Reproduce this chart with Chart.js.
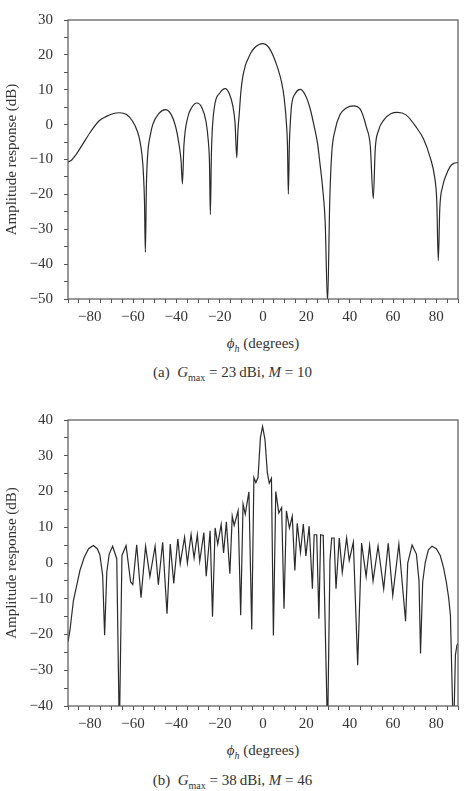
<!DOCTYPE html>
<html>
<head>
<meta charset="utf-8">
<script src="https://cdn.jsdelivr.net/npm/chart.js@4.4.1/dist/chart.umd.min.js"></script>
<style>
  body { margin:0; background:#fff; width:465px; height:791px; position:relative; overflow:hidden;
         font-family:"Liberation Serif","DejaVu Serif",serif; color:#333; }
  .box { position:absolute; left:0; width:465px; }
  .txt { position:absolute; text-align:center; font-size:15px; line-height:18px; white-space:nowrap; }
  sub { font-size:10px; line-height:0; }
</style>
</head>
<body>

<div class="box" style="top:0;height:330px"><canvas id="chartA"></canvas></div>
<div class="txt" style="top:334px;left:68px;width:390px"><i>ϕ<sub>h</sub></i> (degrees)</div>
<div class="txt" style="top:363px;left:0;width:465px">(a)&nbsp; <i>G</i><sub>max</sub> = 23&thinsp;dBi, <i>M</i> = 10</div>

<div class="box" style="top:400px;height:340px"><canvas id="chartB"></canvas></div>
<div class="txt" style="top:741px;left:68px;width:390px"><i>ϕ<sub>h</sub></i> (degrees)</div>
<div class="txt" style="top:771px;left:0;width:465px">(b)&nbsp; <i>G</i><sub>max</sub> = 38&thinsp;dBi, <i>M</i> = 46</div>

<script>
// (a) M = 10
const phiA = [-90, -88.6, -86.3, -83.2, -79.4, -75.6, -72.5, -69, -66.3, -63, -60.1, -58, -56.8, -55.8, -55.2, -54.7, -54.3, -53.8, -53.2, -52,
  -50.9, -48, -45.1, -42.5, -40.2, -38.8, -37.8, -37.2, -36.5, -34.8, -32.8, -30.5, -28.3, -26.3, -25.2, -24.7, -24.3, -23.8, -22.5, -20,
  -17.4, -15.5, -14, -12.9, -12.1, -11.6, -11, -10.2, -9.4, -8.2, -7.1, -5.5, -4.1, -2, 0, 2, 3.5, 4.8, 6.8, 8.6,
  9.8, 10.8, 11.3, 11.7, 12.2, 12.7, 13.2, 15, 17.1, 19.5, 21.7, 23.8, 25.2, 26.3, 27.5, 28.7, 29.8, 30.8, 31.7, 33.3,
  35.5, 38.5, 41.7, 44.8, 47.8, 49.5, 50.9, 51.8, 53.2, 56, 59, 62, 66, 70.9, 74, 77.1, 79.2, 80.2, 80.9, 81.6,
  82.9, 84.5, 86.3, 88, 90];
const gainA = [-10.7, -10.3, -8.6, -5.6, -1.9, 1.1, 2.3, 3.2, 3.4, 2.9, 0.9, -1.9, -4.7, -9, -14, -22, -36.6, -17, -8.4, -3,
  0, 3.2, 4.3, 3, -0.9, -5.5, -10.5, -17, -6, 1.9, 5, 6.2, 5, 0.9, -5, -11, -25.8, -8, 4.7, 9,
  10.3, 8.8, 5.6, 0.5, -9.5, -2, 2.8, 9.5, 13.5, 16.8, 18.6, 20.7, 21.9, 22.9, 23.2, 22.6, 21.3, 19.6, 16.2, 12.1,
  7.5, 0.5, -6, -19.9, -5, 1.5, 5.6, 9, 10.1, 8.5, 4.7, -1, -5.5, -11.2, -18, -28, -51, -22, -8.4, -1.5,
  2.8, 4.8, 5.4, 4.5, -0.9, -6, -21.2, -7, -1.9, 1.5, 3.1, 3.5, 2.8, -0.9, -4, -9.3, -15, -22, -39, -24,
  -17.7, -14.5, -12.1, -11.1, -10.9];

// (b) M = 46
const phiB = [-90, -89.1, -87.5, -86, -84.5, -82.5, -80.5, -78.3, -76.5, -75.3, -74, -73.1, -72.1, -71, -69.4, -67.5, -66.3, -65.1, -63.2, -61.1,
  -60.1, -58.3, -56.3, -54.2, -52.2, -49.8, -48.3, -46.3, -44.3, -42.8, -41.2, -39.3, -38.2, -36.2, -34.9, -33.2, -31.8, -30.3, -29.2, -27.3,
  -26.2, -24.4, -23.3, -22.1, -20.9, -19.3, -18.2, -16.9, -15.3, -14.2, -13.3, -11.5, -10.3, -9.2, -8.2, -6.5, -5.2, -4.2, -3.3, -2.3,
  -1.2, -0.2, 0.9, 2, 2.9, 3.9, 4.8, 5.9, 7.3, 8.6, 9.7, 10.8, 12.2, 13.5, 14.7, 15.8, 17.3, 18.6, 19.8, 21.3,
  22.8, 23.6, 24.8, 25.8, 26.6, 27.8, 29.8, 30.9, 31.7, 32.8, 33.7, 35.2, 36.6, 38.6, 39.8, 41.7, 43.7, 45.5, 47.6, 49.2,
  50.8, 53.1, 55.7, 57.8, 59.9, 62.7, 65.8, 66.8, 68.8, 70.8, 72, 72.7, 73.7, 74.9, 76.3, 78, 80, 81.8, 83.3, 84.6,
  85.7, 86.5, 87.9, 88.8, 89.5, 90];
const gainB = [-22, -18.8, -10.5, -6.3, -2.1, 1.6, 4, 4.9, 4, 2.3, -3.5, -20.2, -2.6, 2.5, 4.7, 1.2, -48, 2.1, 4.9, -5.3,
  -6, 5.1, -9.7, 4.7, -3.8, 4.7, -6.1, 5.8, -14.2, 5.3, -5.7, 6.8, -0.2, 7.2, 0, 8, 1.4, 7.9, 0.5, 8.5,
  -3.7, 9, -15, 9.8, 5.3, 10.8, 2.8, 11.5, -3, 13.1, 10.5, 14.6, -14.6, 16.5, 13.7, 19.9, -18.6, 23.9, 22.5, 23.9,
  35, 38.2, 34.6, 25.3, 22.3, 23.7, -20.3, 20, 14, 15.5, -12.8, 14.6, 9.8, 13.1, -2.1, 11.1, 3, 10.9, 2, 10.3,
  -7.2, 7.9, 7.9, -15.6, 7.9, 7.7, -48, 0.7, 7, 7, -7.2, 7, -2.6, 7, 0.7, 5.8, -28.6, 5.6, -3.8, 4.9,
  -5, 4.7, -7.2, 5.5, -9.1, 5.3, -16.3, 0, 5, 2.5, -5, -25.3, -5.3, 0.2, 3.6, 4.7, 4, 2.1, -1.2, -5.3,
  -9.8, -14.6, -50, -25.8, -23, -22.5];

const xLabels = [-80, -60, -40, -20, 0, 20, 40, 60, 80];
const yLabelsA = [-50, -40, -30, -20, -10, 0, 10, 20, 30];
const yLabelsB = [-40, -30, -20, -10, 0, 10, 20, 30, 40];

const FONT = '"Liberation Serif", "Times New Roman", "DejaVu Serif", serif';
const INK = '#333';
const AXIS = '#555';

function fmt(v) {
  return v < 0 ? '\u2212' + Math.abs(v) : String(v);
}

const frame = {
  id: 'frame',
  afterDatasetsDraw(chart) {
    const { ctx, chartArea: a } = chart;
    ctx.save();
    ctx.strokeStyle = AXIS;
    ctx.lineWidth = 1.2;
    ctx.strokeRect(a.left, a.top, a.right - a.left, a.bottom - a.top);
    ctx.restore();
  }
};

function makeChart(id, phi, gain, yLabels, padTop, xHeight, smooth) {
  return new Chart(document.getElementById(id), {
    type: 'line',
    data: {
      datasets: [{
        data: phi.map((x, i) => ({ x: x, y: gain[i] })),
        borderColor: '#2a2a2a',
        borderWidth: 1.2,
        pointRadius: 0,
        tension: smooth ? 0.4 : 0,
        cubicInterpolationMode: smooth ? 'monotone' : 'default',
        clip: 0
      }]
    },
    options: {
      responsive: true,
      maintainAspectRatio: false,
      animation: false,
      layout: { padding: { top: padTop, right: 7, bottom: 0, left: 0 } },
      plugins: { legend: { display: false }, tooltip: { enabled: false } },
      scales: {
        x: {
          type: 'linear', min: -90, max: 90,
          border: { display: false },
          grid: { drawOnChartArea: false, tickLength: 4, tickColor: AXIS, tickWidth: 1 },
          ticks: {
            stepSize: 5, autoSkip: false, maxRotation: 0, padding: 5,
            color: INK, font: { family: FONT, size: 15 },
            callback: v => xLabels.includes(v) ? fmt(v) : ''
          },
          afterFit: s => { s.height = xHeight; }
        },
        y: {
          min: yLabels[0], max: yLabels[yLabels.length - 1],
          border: { display: false },
          grid: { drawOnChartArea: false, tickLength: 4, tickColor: AXIS, tickWidth: 1 },
          ticks: {
            stepSize: 5, autoSkip: false, padding: 11,
            color: INK, font: { family: FONT, size: 15 },
            callback: v => yLabels.includes(v) ? fmt(v) : ''
          },
          title: {
            display: true, text: 'Amplitude response (dB)', color: INK,
            font: { family: FONT, size: 15 }, padding: { top: 3, bottom: 0 }
          },
          afterFit: s => { s.width = 68; }
        }
      }
    },
    plugins: [frame]
  });
}

const charts = [
  makeChart('chartA', phiA, gainA, yLabelsA, 13, 31, true),
  makeChart('chartB', phiB, gainB, yLabelsB, 19, 34, false)
];

// redraw once the serif face is surely loaded
if (document.fonts && document.fonts.load) {
  document.fonts.load('15px "Liberation Serif"').then(() => charts.forEach(c => c.update()));
}
</script>
</body>
</html>
